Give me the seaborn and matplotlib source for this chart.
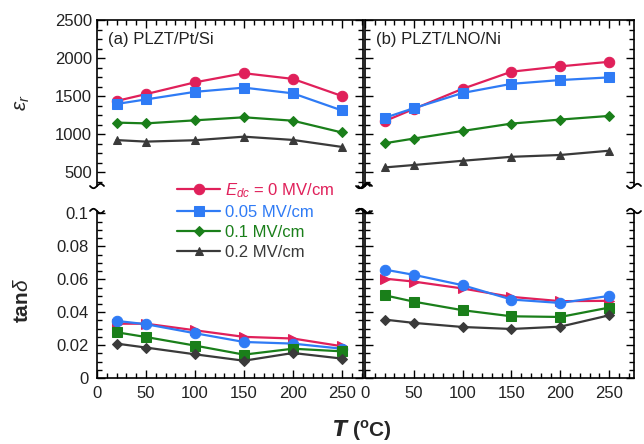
import numpy as np
import pandas as pd
import matplotlib
matplotlib.use("Agg")
import matplotlib.pyplot as plt
from matplotlib.lines import Line2D
from matplotlib.ticker import MultipleLocator, AutoMinorLocator
import seaborn as sns

sns.set_style("ticks")
plt.rcParams['font.family'] = ['Liberation Sans', 'DejaVu Sans']
plt.rcParams['mathtext.fontset'] = 'custom'
plt.rcParams['mathtext.rm'] = 'Liberation Sans'
plt.rcParams['mathtext.it'] = 'Liberation Sans:italic'
plt.rcParams['mathtext.bf'] = 'Liberation Sans:bold'

# ---------------- data ----------------
temps = [20, 50, 100, 150, 200, 250]
series_labels = [r"$E_{dc}$ = 0 MV/cm", "0.05 MV/cm", "0.1 MV/cm", "0.2 MV/cm"]
colors = ["#E0205A", "#2F7BF5", "#1A7F1A", "#3A3A3A"]

# (a) PLZT/Pt/Si  permittivity
eps_a_0 = [1435, 1525, 1680, 1800, 1725, 1500]
eps_a_005 = [1395, 1455, 1555, 1610, 1535, 1310]
eps_a_01 = [1150, 1140, 1180, 1220, 1175, 1020]
eps_a_02 = [920, 900, 918, 965, 922, 830]
# (b) PLZT/LNO/Ni permittivity
eps_b_0 = [1168, 1330, 1595, 1820, 1890, 1950]
eps_b_005 = [1212, 1340, 1540, 1660, 1710, 1745]
eps_b_01 = [878, 940, 1040, 1137, 1190, 1238]
eps_b_02 = [560, 592, 648, 700, 724, 780]
# (a) loss tangent
tan_a_0 = [0.0330, 0.0330, 0.0290, 0.0250, 0.0240, 0.0193]
tan_a_005 = [0.0347, 0.0327, 0.0272, 0.0219, 0.0209, 0.0178]
tan_a_01 = [0.0278, 0.0249, 0.0197, 0.0142, 0.0178, 0.0162]
tan_a_02 = [0.0209, 0.0185, 0.0144, 0.0105, 0.0152, 0.0118]
# (b) loss tangent
tan_b_0 = [0.0604, 0.0586, 0.0544, 0.0493, 0.0467, 0.0469]
tan_b_005 = [0.0659, 0.0627, 0.0564, 0.0477, 0.0456, 0.0499]
tan_b_01 = [0.0503, 0.0464, 0.0412, 0.0375, 0.0371, 0.0428]
tan_b_02 = [0.0355, 0.0335, 0.0310, 0.0298, 0.0312, 0.0381]

panel_labels = ["(a) PLZT/Pt/Si", "(b) PLZT/LNO/Ni"]
eps_yticks = [500, 1000, 1500, 2000, 2500]
tan_yticks = [0, 0.02, 0.04, 0.06, 0.08, 0.1]
tan_yticklabels = ["0", "0.02", "0.04", "0.06", "0.08", "0.1"]
xticks = [0, 50, 100, 150, 200, 250]

top_markers = ["o", "s", "D", "^"]
top_msizes = [7.5, 7, 5, 6]
bot_markers = [">", "o", "s", "D"]
bot_msizes = [6.5, 7.5, 7, 5]

W, H = 644, 444
fig = plt.figure(figsize=(W / 100, H / 100), dpi=100)

def fx(px):
    return px / W

def fy(py):
    return 1 - py / H

cols = [(97, 363), (365, 634)]
top_rows = (20, 186)
bot_rows = (211, 378)
xlims = [(0, 271.5), (0, 275.5)]

axes_top, axes_bot = [], []
for (x0, x1) in cols:
    axes_top.append(fig.add_axes([fx(x0), fy(top_rows[1]), (x1 - x0) / W, (top_rows[1] - top_rows[0]) / H]))
    axes_bot.append(fig.add_axes([fx(x0), fy(bot_rows[1]), (x1 - x0) / W, (bot_rows[1] - bot_rows[0]) / H]))

eps_data = [[eps_a_0, eps_a_005, eps_a_01, eps_a_02], [eps_b_0, eps_b_005, eps_b_01, eps_b_02]]
tan_data = [[tan_a_0, tan_a_005, tan_a_01, tan_a_02], [tan_b_0, tan_b_005, tan_b_01, tan_b_02]]

for i in range(2):
    at, ab = axes_top[i], axes_bot[i]
    for j in range(4):
        sns.lineplot(x=temps, y=eps_data[i][j], ax=at, color=colors[j], marker=top_markers[j],
                     markersize=top_msizes[j], markeredgecolor=colors[j], linewidth=1.6,
                     label=series_labels[j], legend=False)
        sns.lineplot(x=temps, y=tan_data[i][j], ax=ab, color=colors[j], marker=bot_markers[j],
                     markersize=bot_msizes[j], markeredgecolor=colors[j], linewidth=1.6,
                     legend=False)
    for ax in (at, ab):
        ax.set_xlim(*xlims[i])
        ax.xaxis.set_major_locator(MultipleLocator(50))
        ax.xaxis.set_minor_locator(MultipleLocator(10))
        ax.yaxis.set_minor_locator(AutoMinorLocator(4))
        ax.tick_params(which='both', direction='in', width=1.0, color='black', labelsize=12,
                       labelcolor='#222222', left=True, right=True)
        ax.tick_params(which='major', length=6)
        ax.tick_params(which='minor', length=3.5)
        for s in ax.spines.values():
            s.set_linewidth(1.2)
            s.set_color('black')
        ax.set_xlabel("")
        ax.set_ylabel("")
    at.set_ylim(316, 2500)
    at.set_yticks(eps_yticks)
    at.spines['bottom'].set_visible(False)
    at.tick_params(which='both', bottom=False, top=True, labelbottom=False)
    ab.set_ylim(0, 0.1015)
    ab.set_yticks(tan_yticks)
    ab.set_yticklabels(tan_yticklabels)
    ab.spines['top'].set_visible(False)
    ab.set_xticks(xticks)
    ab.set_xticklabels([str(t) for t in xticks])
    ab.tick_params(which='both', bottom=True, top=False, labelbottom=True, pad=6)
    if i == 1:
        at.tick_params(labelleft=False)
        ab.tick_params(labelleft=False)
    at.text(0.04, 0.93, panel_labels[i], transform=at.transAxes, fontsize=12,
            ha='left', va='top', color='#222222')

# break marks (small tilde at spine ends)
t = np.linspace(-1, 1, 40)
for (x0, x1) in cols:
    for xs in (x0, x1):
        for yb, sgn in ((top_rows[1], 1), (bot_rows[0], -1)):
            px = xs + 7 * t
            py = yb + sgn * (-2.2 * np.sin(np.pi * t))
            fig.add_artist(Line2D([fx(p) for p in px], [fy(q) for q in py],
                                  transform=fig.transFigure, color='black', lw=1.3))

# legend
handles, labels = axes_top[0].get_legend_handles_labels()
leg = fig.legend(handles, labels, loc='upper left', bbox_to_anchor=(fx(177), fy(181)),
                 frameon=False, fontsize=12, handlelength=2.6, handletextpad=0.3,
                 labelspacing=0.3, borderpad=0, borderaxespad=0, labelcolor='linecolor')

# axis labels
fig.text(fx(22), fy(103), r"$\varepsilon_r$", rotation=90, fontsize=15, ha='center', va='center')
fig.text(fx(22), fy(300), r"$\mathbf{tan}\mathit{\delta}$", rotation=90, fontsize=15,
         ha='center', va='center')
fig.text(fx(362), fy(430), r"$\mathbfit{T}$ $\mathbf{(^oC)}$", fontsize=15, ha='center', va='center')

fig.savefig("out.png", dpi=100, facecolor='white')
